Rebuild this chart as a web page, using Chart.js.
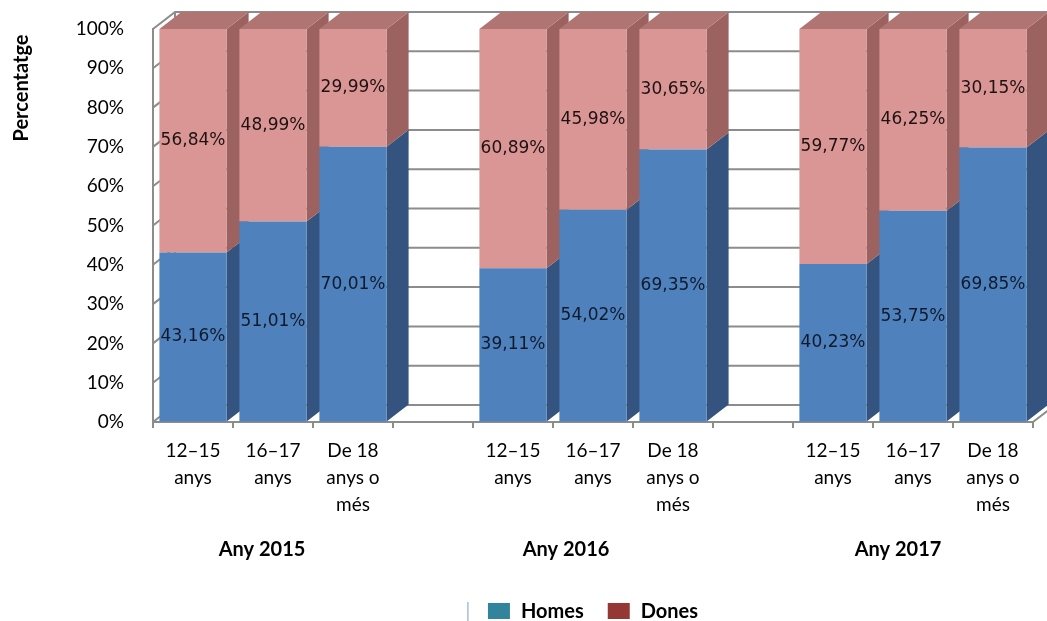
<!DOCTYPE html>
<html>
<head>
<meta charset="utf-8">
<script src="https://cdn.jsdelivr.net/npm/chart.js@4/dist/chart.umd.min.js"></script>
<style>
    html, body { margin: 0; padding: 0; background: #ffffff; }
    #wrap { width: 1047px; height: 621px; }
</style>
</head>
<body>
<div id="wrap"><canvas id="myChart" width="1047" height="621"></canvas></div>
<script>
// categories (empty slots separate the years)
const categories = [
    ["12–15", "anys"], ["16–17", "anys"], ["De 18", "anys o", "més"], "",
    ["12–15", "anys"], ["16–17", "anys"], ["De 18", "anys o", "més"], "",
    ["12–15", "anys"], ["16–17", "anys"], ["De 18", "anys o", "més"]
];
const groupLabels = ["Any 2015", "Any 2016", "Any 2017"];
const groupCenters = [1, 5, 9];

const homes = [43.16, 51.01, 70.01, null, 39.11, 54.02, 69.35, null, 40.23, 53.75, 69.85];
const dones = [56.84, 48.99, 29.99, null, 60.89, 45.98, 30.65, null, 59.77, 46.25, 30.15];

const yTicks = [0, 10, 20, 30, 40, 50, 60, 70, 80, 90, 100];

// depth of the fake 3D look
const DX = 22;
const DY = 17;

const colors = {
    homes: { front: "#4f81bd", side: "#34547f", top: "#5b8cc6", legend: "#31849b" },
    dones: { front: "#d99694", side: "#9c625f", top: "#b07472", legend: "#953735" }
};

const fmt = (v) => v.toFixed(2).replace(".", ",") + "%";

const wallPlugin = {
    id: "wall3d",
    beforeDatasetsDraw: (chart) => {
        const ctx = chart.ctx;
        const y = chart.scales.y;
        const area = chart.chartArea;
        ctx.save();
        ctx.strokeStyle = "#8c8c8c";
        ctx.lineWidth = 2;
        yTicks.forEach((t) => {
            const py = y.getPixelForValue(t);
            ctx.beginPath();
            ctx.moveTo(area.left, py);
            ctx.lineTo(area.left + DX, py - DY);
            ctx.lineTo(area.right + DX, py - DY);
            ctx.stroke();
        });
        ctx.beginPath();
        ctx.moveTo(area.left + DX, y.getPixelForValue(100) - DY);
        ctx.lineTo(area.left + DX, y.getPixelForValue(0) - DY);
        ctx.stroke();
        ctx.beginPath();
        ctx.moveTo(area.right, area.bottom);
        ctx.lineTo(area.right + DX, area.bottom - DY);
        ctx.stroke();

        // side and top faces, drawn before the fronts
        const metas = [chart.getDatasetMeta(0), chart.getDatasetMeta(1)];
        const keys = ["homes", "dones"];
        for (let i = 0; i < categories.length; i++) {
            metas.forEach((meta, d) => {
                const bar = meta.data[i];
                if (!bar || chart.data.datasets[d].data[i] == null) return;
                const p = bar.getProps(["x", "y", "base", "width"], true);
                const left = p.x - p.width / 2;
                const right = p.x + p.width / 2;
                const c = colors[keys[d]];
                ctx.fillStyle = c.side;
                ctx.beginPath();
                ctx.moveTo(right, p.y);
                ctx.lineTo(right + DX, p.y - DY);
                ctx.lineTo(right + DX, p.base - DY);
                ctx.lineTo(right, p.base);
                ctx.closePath();
                ctx.fill();
                if (d === metas.length - 1) {
                    ctx.fillStyle = c.top;
                    ctx.beginPath();
                    ctx.moveTo(left, p.y);
                    ctx.lineTo(right, p.y);
                    ctx.lineTo(right + DX, p.y - DY);
                    ctx.lineTo(left + DX, p.y - DY);
                    ctx.closePath();
                    ctx.fill();
                }
            });
        }
        ctx.restore();
    },
    afterDatasetsDraw: (chart) => {
        const ctx = chart.ctx;
        ctx.save();
        ctx.font = "17px 'DejaVu Sans'";
        ctx.textAlign = "center";
        ctx.textBaseline = "middle";
        chart.data.datasets.forEach((ds, d) => {
            const meta = chart.getDatasetMeta(d);
            meta.data.forEach((bar, i) => {
                if (ds.data[i] == null) return;
                const p = bar.getProps(["x", "y", "base"], true);
                ctx.fillStyle = d === 0 ? "#0f1b2d" : "#1e1212";
                ctx.fillText(fmt(ds.data[i]), p.x, (p.y + p.base) / 2);
            });
        });
        ctx.restore();
    },
    afterDraw: (chart) => {
        const ctx = chart.ctx;
        const x = chart.scales.x;
        const area = chart.chartArea;
        const offsets = [-11, -27, -15];
        ctx.save();
        ctx.fillStyle = "#000";
        ctx.font = "bold 20px Lato";
        ctx.textAlign = "center";
        ctx.textBaseline = "middle";
        groupLabels.forEach((g, k) => {
            ctx.fillText(g, x.getPixelForValue(groupCenters[k]) + offsets[k], 550);
        });

        // y title
        ctx.save();
        ctx.translate(22, 88);
        ctx.rotate(-Math.PI / 2);
        ctx.fillText("Percentatge", 0, 0);
        ctx.restore();

        // legend
        const items = [
            { text: chart.data.datasets[0].label, color: colors.homes.legend },
            { text: chart.data.datasets[1].label, color: colors.dones.legend }
        ];
        const boxW = 22, boxH = 16, gap = 11, itemGap = 24;
        let total = 0;
        items.forEach((it, k) => {
            it.w = ctx.measureText(it.text).width;
            total += boxW + gap + it.w + (k ? itemGap : 0);
        });
        let lx = (area.left + area.right) / 2 - total / 2;
        const ly = 611;
        ctx.strokeStyle = "#7a9cc8";
        ctx.lineWidth = 1;
        ctx.beginPath();
        ctx.moveTo(lx - 20, 602);
        ctx.lineTo(lx - 20, 621);
        ctx.stroke();
        ctx.textAlign = "left";
        items.forEach((it) => {
            ctx.fillStyle = it.color;
            ctx.fillRect(lx, ly - boxH / 2, boxW, boxH);
            ctx.fillStyle = "#000";
            ctx.fillText(it.text, lx + boxW + gap, ly + 1);
            lx += boxW + gap + it.w + itemGap;
        });
        ctx.restore();
    }
};

let myChart;

document.addEventListener("DOMContentLoaded", () => {
    const ctx = document.getElementById("myChart");
    myChart = new Chart(ctx, {
        type: "bar",
        data: {
            labels: categories,
            datasets: [
                { label: "Homes", data: homes, backgroundColor: colors.homes.front },
                { label: "Dones", data: dones, backgroundColor: colors.dones.front }
            ]
        },
        options: {
            responsive: false,
            animation: false,
            layout: { padding: { top: 29, right: 14, bottom: 0, left: 0 } },
            datasets: { bar: { categoryPercentage: 1, barPercentage: 0.84 } },
            plugins: {
                legend: { display: false },
                tooltip: { enabled: false }
            },
            scales: {
                x: {
                    stacked: true,
                    afterFit: (scale) => {
                        scale.height = 199;
                        scale.paddingLeft = 0;
                        scale.paddingRight = 0;
                    },
                    grid: { offset: true, drawOnChartArea: false, drawTicks: true, tickLength: 6, color: "#8c8c8c", lineWidth: 2 },
                    border: { display: true, color: "#8c8c8c", width: 2 },
                    ticks: {
                        maxRotation: 0,
                        autoSkip: false,
                        padding: 10,
                        color: "#000",
                        font: { family: "Lato", size: 19, lineHeight: 1.4 }
                    }
                },
                y: {
                    stacked: true,
                    min: 0,
                    max: 100,
                    afterFit: (scale) => {
                        scale.width = 153;
                        scale.paddingTop = 0;
                        scale.paddingBottom = 0;
                    },
                    grid: { drawOnChartArea: false, drawTicks: false },
                    border: { display: true, color: "#8c8c8c", width: 2 },
                    ticks: {
                        stepSize: 10,
                        padding: 29,
                        color: "#000",
                        font: { family: "Lato", size: 19 },
                        callback: (v) => v + "%"
                    }
                }
            }
        },
        plugins: [wallPlugin]
    });
});
</script>
</body>
</html>
